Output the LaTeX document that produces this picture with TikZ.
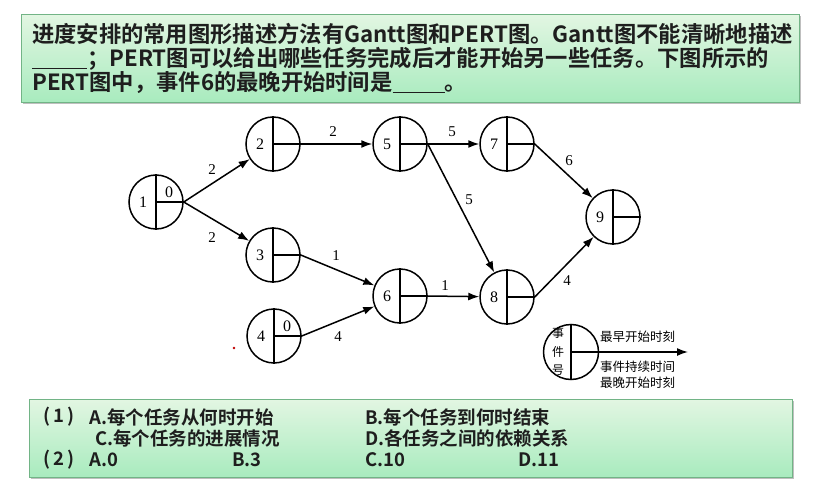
\documentclass[tikz,border=0pt]{standalone}
\usepackage{fontspec}
\setmainfont{Liberation Serif}
\newfontfamily\cjk{Noto Sans CJK SC}[BoldFont={* Bold}]
\usetikzlibrary{arrows.meta}
\definecolor{boxtop}{HTML}{E2F6E2}
\definecolor{boxbot}{HTML}{A8EBBE}
\definecolor{boxline}{HTML}{72B486}
\definecolor{txt}{HTML}{1E1E1E}
\newcommand\evt[4]{%
  \node[ev] (#1) at (#2,#3) {};
  \draw[line width=1.5pt] (#1.north) -- (#1.south) (#1.center) -- (#1.east);
  \node[num] (#1n) at ([xshift=-13pt]#1.center) {#4};
}
\begin{document}
\begin{tikzpicture}[x=1pt,y=-1pt,
  ev/.style={circle,draw,line width=1.5pt,minimum size=54pt,inner sep=0pt},
  num/.style={inner sep=0pt,font=\fontsize{16}{16}\selectfont},
  lab/.style={inner sep=0pt,font=\fontsize{15}{15}\selectfont},
  arr/.style={line width=1.5pt,-{Latex[length=11pt,width=8pt]}},
  qbox/.style={draw=boxline,line width=0.8pt,top color=boxtop,bottom color=boxbot,inner sep=0pt,anchor=north west},
  qshadow/.style={fill=black!25,draw=none,inner sep=0pt,anchor=north west},
  qtxt/.style={anchor=west,inner sep=0pt,text=txt,font=\cjk\bfseries\fontsize{22.3}{22.3}\selectfont},
  atxt/.style={anchor=west,inner sep=0pt,text=txt,font=\cjk\bfseries\fontsize{18.5}{18.5}\selectfont},
  lgd/.style={anchor=west,inner sep=0pt,font=\cjk\fontsize{12.5}{12.5}\selectfont},
  lgc/.style={inner sep=0pt,font=\cjk\fontsize{12}{12}\selectfont}]
\useasboundingbox (0,0) rectangle (825,484);
\fill[white] (0,0) rectangle (825,484);

% question box
\node[qshadow,minimum width=778pt,minimum height=88pt] (qs) at (23,16) {};
\node[qbox,minimum width=778pt,minimum height=88pt] (qb) at (21,14) {};
\node[qtxt] (q1) at (32,34) {进度安排的常用图形描述方法有Gantt图和PERT图。Gantt图不能清晰地描述};
\node[qtxt] (q2) at (32,59) {\underline{\hspace{55pt}}；PERT图可以给出哪些任务完成后才能开始另一些任务。下图所示的};
\node[qtxt] (q3) at (32,83) {PERT图中，事件6的最晚开始时间是\underline{\hspace{52pt}}。};

% events
\evt{n1}{156}{202}{1}
\evt{n2}{273}{144}{2}
\evt{n3}{273}{255}{3}
\evt{n4}{274}{336}{4}
\evt{n5}{400}{144}{5}
\evt{n6}{400}{296}{6}
\evt{n7}{507}{144}{7}
\evt{n8}{507}{297}{8}
\evt{n9}{613}{217}{9}
\node[num] (n1z) at ([xshift=13pt,yshift=10pt]n1.center) {0};
\node[num] (n4z) at ([xshift=13pt,yshift=10pt]n4.center) {0};

% activities
\draw[arr] (n1.east) -- (n2);
\draw[arr] (n1.east) -- (n3);
\draw[arr] (n2.east) -- (n5);
\draw[arr] (n3.east) -- (n6);
\draw[arr] (n4.east) -- (n6);
\draw[arr] (n5.east) -- (n7);
\draw[arr] (n5.east) -- (n8);
\draw[arr] (n6.east) -- (n8);
\draw[arr] (n7.east) -- (n9);
\draw[arr] (n8.east) -- (n9);

\node[lab] (l12) at (212,170) {2};
\node[lab] (l13) at (212,238) {2};
\node[lab] (l25) at (333,132) {2};
\node[lab] (l36) at (336,256) {1};
\node[lab] (l46) at (338,337) {4};
\node[lab] (l57) at (452,132) {5};
\node[lab] (l58) at (469,200) {5};
\node[lab] (l68) at (445,286) {1};
\node[lab] (l79) at (569,161) {6};
\node[lab] (l89) at (567,281) {4};

\fill[red!75!black] (234,348) circle (1.3pt);

% legend
\node[ev,minimum size=55pt] (L) at (571,352) {};
\draw[line width=1.5pt] (L.north) -- (L.south);
\coordinate (Lend) at (688,352);
\draw[line width=1.5pt,-{Latex[length=11pt,width=8pt]}] (L.center) -- (Lend);
\node[lgc] (Lc1) at (558,333) {事};
\node[lgc] (Lc2) at (558,352) {件};
\node[lgc] (Lc3) at (558,370) {号};
\node[lgd] (Lt1) at (600,337) {最早开始时刻};
\node[lgd] (Lt2) at (600,367) {事件持续时间};
\node[lgd] (Lt3) at (600,383) {最晚开始时刻};

% answer box
\node[qshadow,minimum width=763pt,minimum height=78pt] (as) at (31,401) {};
\node[qbox,minimum width=763pt,minimum height=78pt] (ab) at (29,399) {};
\node[atxt] (a1) at (43,417) {(\,1\,)};
\node[atxt] (a1a) at (89,417) {A.每个任务从何时开始};
\node[atxt] (a1b) at (365,417) {B.每个任务到何时结束};
\node[atxt] (a1c) at (95,438.5) {C.每个任务的进展情况};
\node[atxt] (a1d) at (365,438.5) {D.各任务之间的依赖关系};
\node[atxt] (a2) at (43,460) {(\,2\,)};
\node[atxt] (a2a) at (89,460) {A.0};
\node[atxt] (a2b) at (232,460) {B.3};
\node[atxt] (a2c) at (365,460) {C.10};
\node[atxt] (a2d) at (518,460) {D.11};
\end{tikzpicture}
\end{document}
